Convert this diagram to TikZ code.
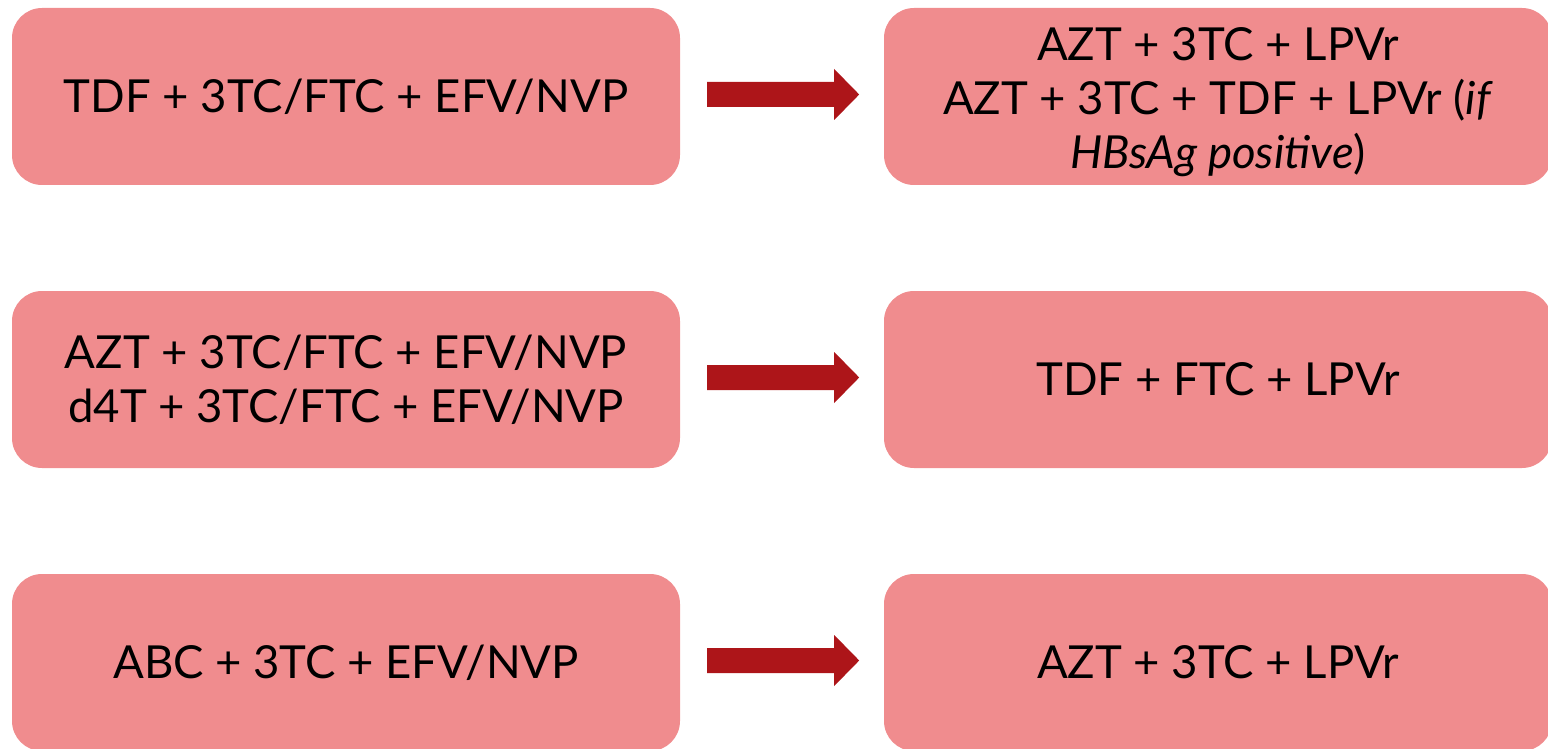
\documentclass[tikz,border=0pt]{standalone}
\usepackage{fontspec}
\setmainfont{Lato}
\usetikzlibrary{calc}
\definecolor{boxfill}{HTML}{F08C8E}
\definecolor{arrowfill}{HTML}{AD1519}
\tikzset{
  boxtext/.style={inner sep=0pt, align=center, text=black, font=\fontsize{45.5}{54}\selectfont},
  regbox/.style={boxtext, fill=boxfill, draw=none, rounded corners=30, minimum width=668, minimum height=177},
  arr/.style={fill=arrowfill, draw=none}
}
\newcommand\blockarrow[1]{%
  \path (#1.east) ++(27,-2) coordinate (bs);
  \fill[arr] (bs) ++(0,-12.5) -- ++(127,0) -- ++(0,-13) -- ++(25,25.5) -- ++(-25,25.5) -- ++(0,-13) -- ++(-127,0) -- cycle;}
\begin{document}
\begin{tikzpicture}[x=1pt,y=-1pt]
\useasboundingbox (0,0) rectangle (1548,749);
\clip (0,0) rectangle (1548,749);
\node[regbox] (l1) at (346,96.5) {TDF + 3TC/FTC + EFV/NVP};
\node[regbox] (r1) at (1218,96.5) {};
\node[boxtext] (r1t) at ($(r1.center)+(0,6)$) {AZT + 3TC + LPVr\\AZT + 3TC + TDF + LPVr (\textit{if}\\\textit{HBsAg positive})};
\node[regbox] (l2) at (346,379.5) {AZT + 3TC/FTC + EFV/NVP\\d4T + 3TC/FTC + EFV/NVP};
\node[regbox] (r2) at (1218,379.5) {TDF + FTC + LPVr};
\node[regbox] (l3) at (346,662.5) {ABC + 3TC + EFV/NVP};
\node[regbox] (r3) at (1218,662.5) {AZT + 3TC + LPVr};
\blockarrow{l1}
\blockarrow{l2}
\blockarrow{l3}
\end{tikzpicture}
\end{document}
